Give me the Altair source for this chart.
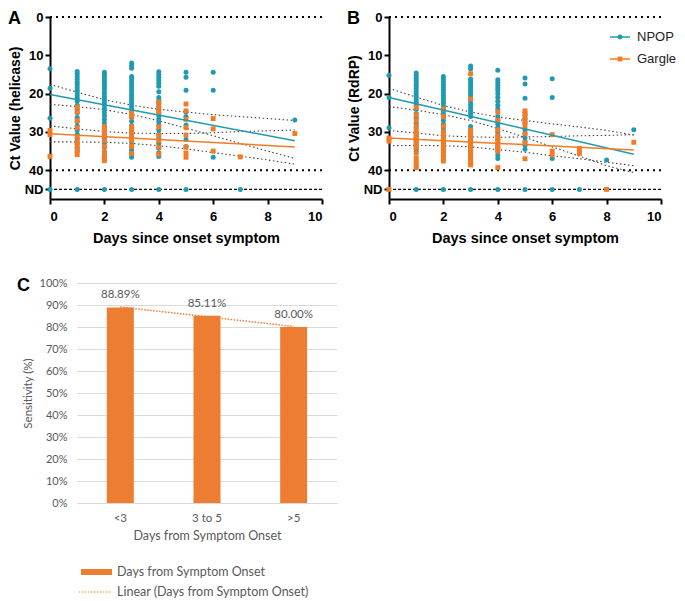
import altair as alt
import pandas as pd

TEAL = "#1f9bb0"
ORANGE = "#f47b26"
BAR = "#ed7d31"
GREY = "#595959"
ARIAL = "Liberation Sans"
CALIBRI = "Lato"
ND = 45  # position of the "ND" (not detected) row on the Ct axis

# ---- panel A: Ct value (helicase), one list per day ----
a_npop = {
    0: [13.5, 18.6, 26.4],
    1: [14.2, 14.9, 15.6, 16.3, 17.0, 17.7, 18.4, 19.1, 19.8, 20.5, 21.2, 22.0, 23.0, 24.1,
        25.0, 26.2, 27.3, 28.4, 29.5, 30.6, 31.8, 33.0, 34.1, 35.0],
    2: [14.4, 15.1, 15.8, 16.5, 17.2, 17.9, 18.6, 19.3, 20.0, 20.8, 21.5, 22.3, 23.1, 24.0,
        24.9, 25.8, 26.7, 27.6, 28.6, 29.6, 30.6, 31.7, 32.8, 34.0, 35.2, 36.3, 37.1],
    3: [12.0, 12.7, 13.4, 15.5, 16.2, 16.9, 17.6, 18.3, 19.0, 19.7, 20.4, 21.1, 21.8, 22.5,
        23.3, 24.1, 25.0, 26.0, 27.2, 28.3, 29.4, 30.5, 31.5, 32.6, 33.7, 34.8, 35.8, 36.6],
    4: [14.3, 15.0, 15.7, 16.5, 17.3, 18.1, 19.5, 21.0, 21.8, 22.6, 23.4, 24.2, 25.0, 25.8,
        26.6, 27.4, 28.3, 29.5, 30.6, 31.8, 33.0, 34.2, 35.4, 36.4],
    5: [14.4, 15.7, 19.1, 24.7, 26.0, 28.2, 32.0, 33.8],
    6: [14.4, 19.1, 36.6],
    9: [26.9],
}
a_npop_nd = [0, 1, 2, 3, 4, 5, 7]
a_garg = {
    0: [29.6, 30.7, 36.4],
    1: [23.5, 24.8, 27.0, 28.9, 31.4, 32.7, 33.8, 34.9, 35.9],
    2: [28.6, 29.6, 30.9, 32.3, 33.8, 35.3, 36.6, 37.5],
    3: [25.0, 26.1, 28.6, 29.8, 30.9, 32.3, 33.8, 35.6],
    4: [22.2, 23.5, 24.8, 28.7, 30.9, 32.3, 34.0, 35.8],
    5: [22.7, 24.5, 26.7, 28.9, 30.8, 34.0, 35.5, 36.6],
    6: [26.5, 29.2, 35.0],
    7: [36.5],
    9: [30.4],
}
a_garg_nd = []

fit_days = [0, 9]
a_npop_fit = [20.2, 32.3]
a_garg_fit = [30.5, 33.9]

ci_days = [0, 1, 2, 3, 4, 5, 6, 7, 8, 9]
a_npop_ci_hi = [17.6, 19.6, 21.6, 23.0, 24.1, 24.8, 25.5, 26.0, 26.5, 27.0]
a_npop_ci_lo = [22.8, 23.4, 24.2, 25.4, 27.1, 29.0, 31.0, 33.0, 35.0, 36.9]
a_garg_ci_hi = [28.4, 29.2, 29.9, 30.3, 30.4, 30.4, 30.2, 29.9, 29.7, 29.5]
a_garg_ci_lo = [32.6, 32.6, 32.7, 33.0, 33.6, 34.4, 35.4, 36.3, 37.3, 38.4]

# ---- panel B: Ct value (RdRP) ----
b_npop = {
    0: [15.2, 21.0, 28.9],
    1: [14.6, 15.3, 16.0, 16.7, 17.4, 18.1, 18.8, 19.5, 20.2, 20.9, 21.6, 22.3, 23.0, 24.0,
        25.2, 26.4, 27.6, 28.8, 30.0, 31.2, 32.4, 33.6, 34.4, 35.1],
    2: [15.5, 16.2, 16.9, 17.6, 18.3, 19.0, 19.7, 20.4, 21.1, 21.8, 22.5, 23.2, 23.9, 24.6,
        25.3, 26.0, 27.0, 28.0, 29.0, 30.0, 31.0, 32.0, 33.0, 34.0, 35.0, 36.2, 37.3],
    3: [12.8, 13.5, 16.2, 16.9, 17.6, 18.3, 19.0, 19.7, 20.4, 21.1, 22.0, 22.8, 23.6, 24.4,
        25.2, 26.0, 28.6, 29.4, 30.2, 31.0, 32.0, 33.0, 34.0, 35.0, 36.0, 37.0],
    4: [13.9, 16.4, 17.1, 17.8, 18.5, 19.2, 20.0, 21.0, 22.0, 23.0, 24.0, 26.0, 27.0, 28.0,
        29.0, 30.0, 31.0, 32.0, 33.0, 34.0, 35.0, 36.0, 36.9],
    5: [15.9, 17.5, 21.2, 25.5, 26.5, 27.5, 29.5, 30.5, 31.5, 32.5, 33.5, 34.5],
    6: [16.1, 21.0, 36.9],
    8: [37.3],
    9: [29.4],
}
b_npop_nd = [1, 2, 3, 4, 5, 6, 7]
b_garg = {
    0: [31.6, 32.4],
    1: [23.6, 25.5, 27.0, 28.5, 29.5, 30.5, 31.2, 31.9, 32.6, 33.3, 34.0, 35.5, 36.8, 37.8,
        38.6, 39.3],
    2: [24.0, 26.0, 28.5, 30.0, 31.0, 32.0, 33.0, 34.0, 35.0, 35.8, 36.8, 37.6],
    3: [14.8, 21.4, 29.5, 30.3, 31.0, 31.8, 32.5, 33.3, 34.0, 35.0, 36.0, 37.0, 38.0, 38.6],
    4: [24.8, 27.0, 29.5, 31.0, 32.0, 33.0, 34.0, 35.0, 39.3],
    5: [24.5, 25.2, 26.3, 27.5, 28.5, 30.5, 32.8, 37.0],
    6: [30.7, 35.0, 36.0],
    7: [34.3, 35.0, 35.6],
    9: [32.7],
}
b_garg_nd = [0, 8]

b_npop_fit = [21.0, 35.8]
b_garg_fit = [31.6, 34.7]
b_npop_ci_hi = [18.6, 20.9, 23.1, 24.8, 26.1, 27.0, 27.9, 28.7, 29.6, 30.8]
b_npop_ci_lo = [23.4, 24.3, 25.5, 27.0, 29.1, 31.4, 33.9, 36.3, 38.8, 40.6]
b_garg_ci_hi = [29.6, 30.3, 31.0, 31.3, 31.4, 31.3, 31.2, 31.0, 30.9, 30.7]
b_garg_ci_lo = [33.6, 33.5, 33.6, 33.9, 34.6, 35.3, 36.2, 37.0, 37.9, 38.8]

# ---- panel C: sensitivity by days from symptom onset ----
c_groups = ["<3", "3 to 5", ">5"]
c_sens = [88.89, 85.11, 80.00]
c_trend_groups = ["<3", ">5"]
c_trend = [89.11, 80.22]


def scatter_df(by_day, nd_days):
    rows = [(d, v) for d, vals in by_day.items() for v in vals]
    rows += [(d, ND) for d in nd_days]
    return pd.DataFrame(rows, columns=["day", "ct"])


def ci_df(hi, lo):
    return pd.DataFrame({
        "day": ci_days + ci_days,
        "ct": hi + lo,
        "side": ["hi"] * len(hi) + ["lo"] * len(lo),
    })


def one_row():
    return pd.DataFrame({"k": [0]})


def ct_panel(letter, ytitle, npop, npop_nd, garg, garg_nd, npop_fit, garg_fit,
             npop_ci, garg_ci, legend=False):
    x = alt.X("day:Q", scale=alt.Scale(domain=[0, 10], nice=False, zero=False),
              axis=alt.Axis(values=[0, 2, 4, 6, 8, 10], title="Days since onset symptom",
                            grid=False, domainColor="black", domainWidth=2,
                            tickColor="black", tickWidth=2, tickSize=5,
                            labelFont=ARIAL, labelFontSize=13, labelFontWeight="bold",
                            labelColor="black", labelPadding=6,
                            titleFont=ARIAL, titleFontSize=14.5, titleFontWeight="bold",
                            titleColor="black", titlePadding=8))
    y = alt.Y("ct:Q", scale=alt.Scale(domain=[0, 47.5], reverse=True, nice=False, zero=False),
              axis=alt.Axis(values=[0, 10, 20, 30, 40, ND], title=ytitle,
                            labelExpr="datum.value == 45 ? 'ND' : datum.label",
                            grid=False, domainColor="black", domainWidth=2,
                            tickColor="black", tickWidth=2, tickSize=5,
                            labelFont=ARIAL, labelFontSize=13, labelFontWeight="bold",
                            labelColor="black", labelPadding=2,
                            titleFont=ARIAL, titleFontSize=14, titleFontWeight="bold",
                            titleColor="black", titlePadding=2))

    dotted = alt.Chart(pd.DataFrame({"ct": [0, 40]})).mark_rule(
        color="black", strokeWidth=2, strokeDash=[2, 4]).encode(y=y)
    dashed = alt.Chart(pd.DataFrame({"ct": [ND]})).mark_rule(
        color="black", strokeWidth=1.2, strokeDash=[3, 2]).encode(y=y)

    ci_layers = [
        alt.Chart(ci_df(*ci)).mark_line(color="#444444", strokeWidth=1.1, strokeDash=[1.5, 2.5])
        .encode(x=x, y=y, detail="side:N")
        for ci in (npop_ci, garg_ci)
    ]

    pts_npop = alt.Chart(scatter_df(npop, npop_nd)).mark_circle(
        size=25, color=TEAL, opacity=1).encode(x=x, y=y)
    pts_garg = alt.Chart(scatter_df(garg, garg_nd)).mark_square(
        size=24, color=ORANGE, opacity=1).encode(x=x, y=y)

    fit_npop = alt.Chart(pd.DataFrame({"day": fit_days, "ct": npop_fit})).mark_line(
        color=TEAL, strokeWidth=1.5).encode(x=x, y=y)
    fit_garg = alt.Chart(pd.DataFrame({"day": fit_days, "ct": garg_fit})).mark_line(
        color=ORANGE, strokeWidth=1.5).encode(x=x, y=y)

    tag = alt.Chart(one_row()).mark_text(
        text=letter, font=ARIAL, fontSize=18, fontWeight="bold", align="left",
        baseline="top", color="black").encode(x=alt.value(-42), y=alt.value(-7))

    layers = [dotted, dashed] + ci_layers + [pts_npop, pts_garg, fit_npop, fit_garg, tag]

    if legend:
        for name, color, shape, ypos in (("NPOP", TEAL, "circle", 20), ("Gargle", ORANGE, "square", 42)):
            layers.append(alt.Chart(one_row()).mark_rule(color=color, strokeWidth=1.5).encode(
                x=alt.value(221), x2=alt.value(241), y=alt.value(ypos)))
            layers.append(alt.Chart(one_row()).mark_point(
                shape=shape, filled=True, size=24, color=color, opacity=1).encode(
                x=alt.value(231), y=alt.value(ypos)))
            layers.append(alt.Chart(one_row()).mark_text(
                text=name, font=ARIAL, fontSize=13, align="left", baseline="middle",
                color="#222222").encode(x=alt.value(248), y=alt.value(ypos)))

    return alt.layer(*layers).properties(width=272, height=182)


panel_a = ct_panel("A", "Ct Value (helicase)", a_npop, a_npop_nd, a_garg, a_garg_nd,
                   a_npop_fit, a_garg_fit, (a_npop_ci_hi, a_npop_ci_lo),
                   (a_garg_ci_hi, a_garg_ci_lo))
panel_b = ct_panel("B", "Ct Value (RdRP)", b_npop, b_npop_nd, b_garg, b_garg_nd,
                   b_npop_fit, b_garg_fit, (b_npop_ci_hi, b_npop_ci_lo),
                   (b_garg_ci_hi, b_garg_ci_lo), legend=True)

# ---- panel C ----
c_df = pd.DataFrame({"grp": c_groups, "sens": c_sens,
                     "lab": [f"{v:.2f}%" for v in c_sens]})
trend_df = pd.DataFrame({"grp": c_trend_groups, "sens": c_trend})

cx = alt.X("grp:N", sort=c_groups, scale=alt.Scale(paddingInner=0, paddingOuter=0),
           axis=alt.Axis(title="Days from Symptom Onset", labelAngle=0, ticks=False, tickSize=0,
                         domainColor="#d9d9d9", labelFont=CALIBRI, labelFontSize=11.5,
                         labelColor=GREY, labelPadding=9, titleFont=CALIBRI,
                         titleFontSize=12.5, titleFontWeight="normal", titleColor=GREY,
                         titlePadding=6))
cy = alt.Y("sens:Q", scale=alt.Scale(domain=[0, 100], nice=False),
           axis=alt.Axis(values=list(range(0, 101, 10)), labelExpr="datum.value + '%'",
                         title="Sensitivity (%)", domain=False, ticks=False, tickSize=0,
                         grid=True, gridColor="#d9d9d9", gridWidth=1,
                         labelFont=CALIBRI, labelFontSize=11, labelColor=GREY, labelPadding=10,
                         titleFont=CALIBRI, titleFontSize=11.5, titleFontWeight="normal",
                         titleColor=GREY, titlePadding=6))

bars = alt.Chart(c_df).mark_bar(size=27, color=BAR).encode(x=cx, y=cy)
bar_labels = alt.Chart(c_df).mark_text(
    font=CALIBRI, fontSize=11.5, color=GREY, dy=-12, baseline="middle").encode(
    x=cx, y=cy, text="lab:N")
trend = alt.Chart(trend_df).mark_line(color=BAR, strokeWidth=1.5, strokeDash=[1.5, 1.5]).encode(
    x=cx, y=cy)
c_tag = alt.Chart(one_row()).mark_text(
    text="C", font=ARIAL, fontSize=18, fontWeight="bold", align="left", baseline="middle",
    color="black").encode(x=alt.value(-60), y=alt.value(3))
leg_box = alt.Chart(one_row()).mark_rect(color=BAR).encode(
    x=alt.value(4), x2=alt.value(35), y=alt.value(286), y2=alt.value(292))
leg_line = alt.Chart(one_row()).mark_rule(color=BAR, strokeWidth=1.2, strokeDash=[1.5, 1.5]).encode(
    x=alt.value(2), x2=alt.value(34), y=alt.value(309))
leg_t1 = alt.Chart(one_row()).mark_text(
    text="Days from Symptom Onset", font=CALIBRI, fontSize=12.5, color=GREY, align="left",
    baseline="middle").encode(x=alt.value(40), y=alt.value(289))
leg_t2 = alt.Chart(one_row()).mark_text(
    text="Linear (Days from Symptom Onset)", font=CALIBRI, fontSize=12.5, color=GREY,
    align="left", baseline="middle").encode(x=alt.value(40), y=alt.value(309))

panel_c = alt.layer(bars, trend, bar_labels, c_tag, leg_box, leg_line, leg_t1, leg_t2).properties(
    width=260, height=220)

spacer = alt.Chart(one_row()).mark_point(opacity=0).encode(
    x=alt.value(0), y=alt.value(0)).properties(width=1, height=1)

top_row = alt.hconcat(panel_a, panel_b, spacing=67, bounds="flush")
bottom_row = alt.hconcat(spacer, panel_c, spacing=26, bounds="flush")

# with flush bounds the nested row counts as zero height, so the gap includes the 182px plot
chart = alt.vconcat(top_row, bottom_row, spacing=266, bounds="flush").properties(
    padding={"left": 0, "top": 2, "right": 0, "bottom": 0}
).configure_view(strokeWidth=0)

chart.save("out.html", embed_options={"renderer": "svg", "actions": False})
